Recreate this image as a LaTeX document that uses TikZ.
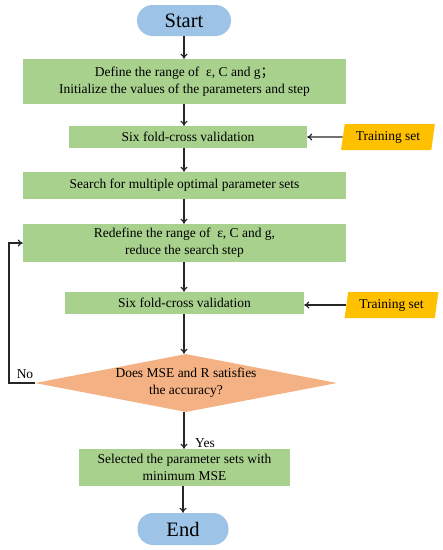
\documentclass[tikz,border=0pt]{standalone}
\usepackage{fontspec}
\setmainfont{Liberation Serif}
\newfontfamily\cjk{Noto Sans CJK SC}
\usetikzlibrary{shapes.geometric,arrows.meta}
\definecolor{boxgreen}{HTML}{A9D18E}
\definecolor{termblue}{HTML}{9DC3E6}
\definecolor{decorange}{HTML}{F4B183}
\definecolor{trainyellow}{HTML}{FFC000}
\begin{document}
\begin{tikzpicture}[x=1pt,y=-1pt,
  every node/.style={font=\fontsize{13.5}{17}\selectfont, inner sep=0pt, align=center},
  procbox/.style={rectangle, fill=boxgreen, draw=none},
  term/.style={rectangle, rounded corners=15.5pt, fill=termblue, font=\fontsize{20.5}{24}\selectfont},
  dec/.style={diamond, fill=decorange, minimum width=302pt, minimum height=58pt},
  trainbox/.style={trapezium, trapezium left angle=77, trapezium right angle=103, trapezium stretches=true, fill=trainyellow, minimum width=94pt, minimum height=26pt},
  arr/.style={-{To[length=5pt,width=7pt]}, line width=1.2pt, black!85}
]
\useasboundingbox (0,0) rectangle (443,550);
\node[term, minimum width=94pt, minimum height=31pt] (start) at (184,20.5) {Start};
\node[procbox, minimum width=323pt, minimum height=45pt] (b1) at (184.5,81.5) {Define the range of \ ε, C and g{\cjk ；}\\Initialize the values of the parameters and step};
\node[procbox, minimum width=238pt, minimum height=22pt] (b2) at (188,137) {Six fold-cross validation};
\node[trainbox] (t1) at (388,137) {Training set};
\node[procbox, minimum width=323pt, minimum height=27pt] (b3) at (184.5,185.5) {Search for multiple optimal parameter sets};
\node[procbox, minimum width=323pt, minimum height=38pt] (b4) at (184.5,243) {Redefine the range of \ ε, C and g,\\reduce the search step};
\node[procbox, minimum width=239pt, minimum height=22pt] (b5) at (184.5,303) {Six fold-cross validation};
\node[trainbox] (t2) at (391.5,305) {Training set};
\node[dec] (d) at (186,383) {};
\node (dtext) at (186,383) {Does MSE and R satisfies\\the accuracy?};
\node[procbox, minimum width=211pt, minimum height=37pt] (b6) at (184.5,467.5) {Selected the parameter sets with\\minimum MSE};
\node[term, minimum width=91pt, minimum height=32pt] (end) at (183,529) {End};
\coordinate (loopc) at (9,383);
\node (no) at (25,374) {No};
\node (yes) at (205,443) {Yes};

\draw[arr] (start.south) -- (start.south |- b1.north);
\draw[arr] (b1.south -| start) -- (b2.north -| start);
\draw[arr] (b2.south -| start) -- (b3.north -| start);
\draw[arr] (b3.south -| start) -- (b4.north -| start);
\draw[arr] (b4.south -| start) -- (b5.north -| start);
\draw[arr] (b5.south -| start) -- (d.north -| start);
\draw[arr] (d.south -| start) -- (b6.north -| start);
\draw[arr] (b6.south -| end) -- (end.north);
\draw[arr] (t1.west) -- (b2.east);
\draw[arr] (t2.west) -- (b5.east |- t2.west);
\draw[arr] (d.west) -- (loopc) |- (b4.west);
\end{tikzpicture}
\end{document}
